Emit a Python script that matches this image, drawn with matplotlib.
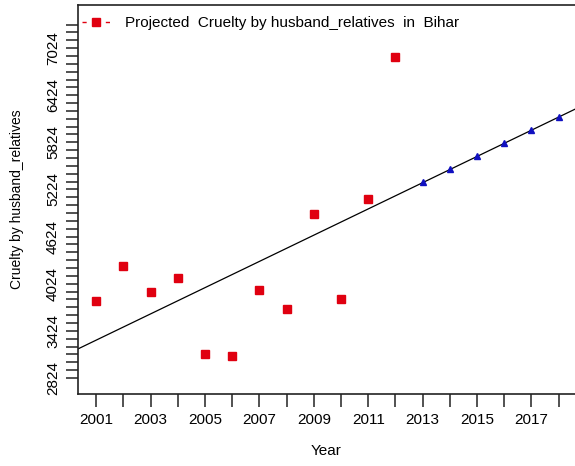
import numpy as np
import matplotlib
matplotlib.use("Agg")
import matplotlib.pyplot as plt
from matplotlib.ticker import MultipleLocator, FixedLocator

plt.rcParams["font.family"] = ["Liberation Sans", "DejaVu Sans"]

years = [2001, 2002, 2003, 2004, 2005, 2006, 2007, 2008, 2009, 2010, 2011, 2012]
cases = [3808, 4249, 3919, 4097, 3129, 3104, 3944, 3702, 4908, 3828, 5098, 6913]

# projected values
proj_years = [2013, 2014, 2015, 2016, 2017, 2018]
proj_cases = [5314, 5479, 5645, 5818, 5980, 6145]

ytick_labels = [2824, 3424, 4024, 4624, 5224, 5824, 6424, 7024]
xtick_labels = [2001, 2003, 2005, 2007, 2009, 2011, 2013, 2015, 2017]

fig = plt.figure(figsize=(5.75, 4.66), dpi=100)
ax = fig.add_axes([0.1357, 0.1545, 0.8643, 0.8345])

xmin, xmax = 2000.33, 2018.6
ymin, ymax = 2620, 7571

# regression line through observed data
slope, icept = np.polyfit(years, cases, 1)
xs = np.array([xmin, xmax])
ax.plot(xs, icept + slope * xs, color="black", lw=0.9)

ax.plot(years, cases, ls="none", marker="s", ms=5.2, color="#e00010",
        zorder=3)
ax.plot(proj_years, proj_cases, ls="none", marker="^", ms=5, color="#1010c0",
        zorder=3)

ax.set_xlim(xmin, xmax)
ax.set_ylim(ymin, ymax)

ax.xaxis.set_major_locator(FixedLocator(xtick_labels))
ax.xaxis.set_minor_locator(MultipleLocator(1))
ax.set_xticklabels([str(v) for v in xtick_labels], fontsize=11)
ax.yaxis.set_major_locator(FixedLocator(ytick_labels))
ax.yaxis.set_minor_locator(FixedLocator(np.arange(2824, 7400, 100)))
ax.set_yticklabels([str(v) for v in ytick_labels], fontsize=11,
                   rotation=90, va="center")

ax.tick_params(axis="both", which="both", length=9, width=1.1, color="#222222")
ax.tick_params(axis="x", pad=5)
ax.tick_params(axis="y", pad=4)

ax.spines["right"].set_visible(False)
for s in ["left", "bottom", "top"]:
    ax.spines[s].set_linewidth(1.2)
    ax.spines[s].set_color("#222222")

ax.set_xlabel("Year", fontsize=11, labelpad=12)
ax.set_ylabel("Cruelty by husband_relatives", fontsize=10, labelpad=16)

# legend: "- ■ -" handle
leg = ax.legend(handles=[plt.Line2D([], [], color="#e00010", ls=(0, (3, 13.8)),
                                    marker="s", ms=5.2, lw=1)],
                labels=["Projected  Cruelty by husband_relatives  in  Bihar"],
                loc="upper left", frameon=False, fontsize=11,
                handlelength=1.8, handletextpad=1.0,
                bbox_to_anchor=(-0.01, 0.995), borderaxespad=0.2)

fig.savefig("out.png", dpi=100)
